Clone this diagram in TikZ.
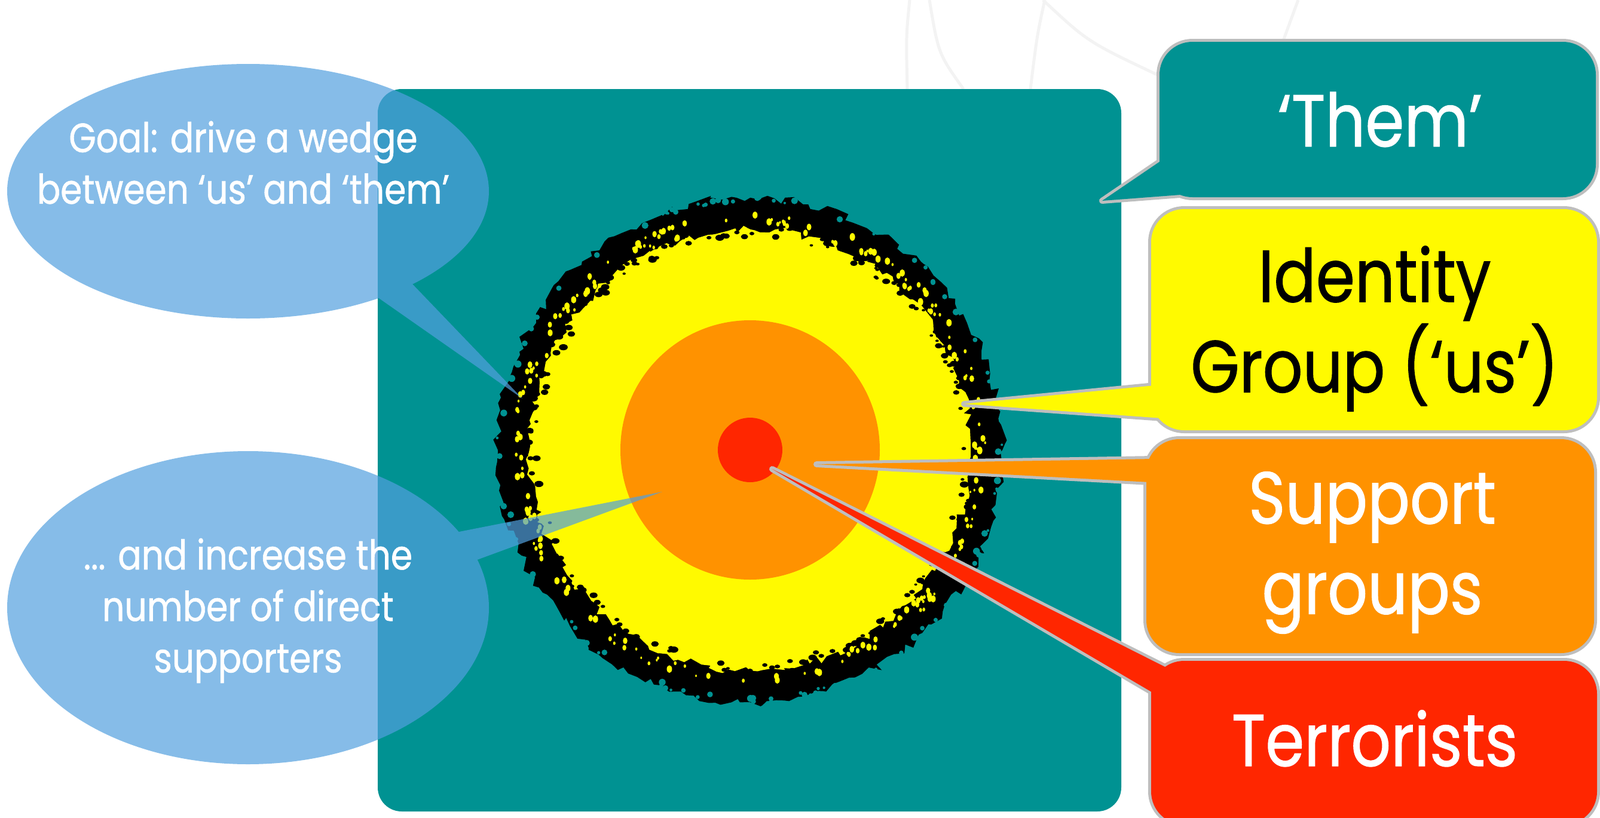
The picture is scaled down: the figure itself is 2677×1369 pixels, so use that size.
\documentclass[tikz,border=0pt]{standalone}
\usepackage{fontspec}
\setmainfont{Poppins}[FakeStretch=0.85, FakeBold=0.9]
\usetikzlibrary{decorations.pathmorphing}
\definecolor{slideteal}{RGB}{0,146,146}
\definecolor{usyellow}{RGB}{255,250,0}
\definecolor{suporange}{RGB}{255,146,0}
\definecolor{terrred}{RGB}{255,38,0}
\definecolor{rimgray}{RGB}{190,190,190}
\definecolor{noteblue}{RGB}{82,160,222}
\definecolor{faintgray}{RGB}{243,243,243}
\tikzset{
  rim/.style={draw=rimgray, line width=0.1cm, line join=round, rounded corners=0.55cm},
  wedge/.style={draw=rimgray, line width=0.1cm, line join=round},
  boxtext/.style={font=\fontsize{35}{43}\selectfont, align=center, inner sep=0pt},
  notetext/.style={font=\fontsize{19.5}{24.5}\selectfont, text=white, align=center, inner sep=0pt},
}
\begin{document}
\begin{tikzpicture}[x=0.01cm, y=-0.01cm]
    \useasboundingbox (0,0) rectangle (2677,1369);

    % faint lines of the slide background
    \draw[faintgray, line width=0.05cm] (1522,0) .. controls (1516,60) .. (1518,149);
    \draw[faintgray, line width=0.05cm] (1555,0) .. controls (1570,90) .. (1612,149);
    \draw[faintgray, line width=0.05cm] (1748,0) .. controls (1735,60) .. (1724,149);
    \draw[faintgray, line width=0.05cm] (1745,0) .. controls (1820,70) .. (1936,125);
    \draw[faintgray, line width=0.05cm] (2172,0) -- (2147,68);

    % the world: 'them'
    \fill[slideteal, rounded corners=0.4cm] (632,149) rectangle (1876,1358);

    % ragged ring round the identity group
    \coordinate (ctr) at (1255,753);
    \fill[black, decorate, decoration={random steps, segment length=3.5pt, amplitude=2.2pt}] (ctr) circle (422);
    \fill[usyellow, decorate, decoration={random steps, segment length=3pt, amplitude=2pt}] (ctr) circle (369);
    \pgfmathsetseed{17}
    \foreach \i in {1,...,230} {
        \pgfmathsetmacro{\ang}{rnd*360}
        \pgfmathsetmacro{\rad}{356+rnd*24}
        \pgfmathsetmacro{\sz}{2.5+rnd*5}
        \fill[black] ({1255+\rad*cos(\ang)},{753+\rad*sin(\ang)}) ellipse [x radius=\sz, y radius=0.7*\sz];
    }
    \foreach \i in {1,...,220} {
        \pgfmathsetmacro{\ang}{rnd*360}
        \pgfmathsetmacro{\rad}{374+rnd*22}
        \pgfmathsetmacro{\sz}{2+rnd*4.5}
        \fill[usyellow] ({1255+\rad*cos(\ang)},{753+\rad*sin(\ang)}) ellipse [x radius=0.7*\sz, y radius=\sz];
    }
    \foreach \i in {1,...,90} {
        \pgfmathsetmacro{\ang}{rnd*360}
        \pgfmathsetmacro{\rad}{414+rnd*10}
        \pgfmathsetmacro{\sz}{2+rnd*4}
        \fill[slideteal] ({1255+\rad*cos(\ang)},{753+\rad*sin(\ang)}) circle (\sz);
    }

    % support groups and terrorists
    \fill[suporange] (ctr) circle (217);
    \fill[terrred] (ctr) circle (54);

    % callout 'Them'
    \coordinate (themTip) at (1844,336);
    \draw[rim] (1940,70) rectangle (2670,330);
    \draw[wedge] (1944,268) -- (themTip) -- (1975,326) -- (2000,290) -- cycle;
    \fill[slideteal, rounded corners=0.55cm] (1940,70) rectangle (2670,330);
    \fill[slideteal] (1944,268) -- (themTip) -- (1975,326) -- (2000,290) -- cycle;
    \node[boxtext, text=white, anchor=base] (them) at (2309,245) {‘Them’};

    % callout identity group
    \coordinate (usTip) at (1613,676);
    \draw[rim] (1926,350) rectangle (2672,720);
    \draw[wedge] (1932,645) -- (usTip) -- (1945,700) -- (1985,670) -- cycle;
    \fill[usyellow, rounded corners=0.55cm] (1926,350) rectangle (2672,720);
    \fill[usyellow] (1932,645) -- (usTip) -- (1945,700) -- (1985,670) -- cycle;
    \node[boxtext, text=black] (us) at (2300,550) {Identity\\Group (‘us’)};

    % callout support groups
    \coordinate (supTip) at (1366,777);
    \draw[rim] (1918,735) rectangle (2667,1093);
    \draw[wedge] (1930,768) -- (supTip) -- (1924,807) -- (1965,790) -- cycle;
    \fill[suporange, rounded corners=0.55cm] (1918,735) rectangle (2667,1093);
    \fill[suporange] (1930,768) -- (supTip) -- (1924,807) -- (1965,790) -- cycle;
    \node[boxtext, text=white] (sup) at (2296,925) {Support\\groups};

    % callout terrorists
    \coordinate (terTip) at (1292,785);
    \draw[rim] (1926,1106) rectangle (2672,1380);
    \draw[wedge] (1953,1118) -- (terTip) -- (1930,1160) -- (1990,1160) -- cycle;
    \fill[terrred, rounded corners=0.55cm] (1926,1106) rectangle (2672,1380);
    \fill[terrred] (1953,1118) -- (terTip) -- (1930,1160) -- (1990,1160) -- cycle;
    \node[boxtext, text=white, anchor=base] (ter) at (2300,1282) {Terrorists};

    % notes in blue
    \coordinate (goalTip) at (874,667);
    \coordinate (moreTip) at (1108,823);
    \begin{scope}[transparency group, opacity=0.7]
        \fill[noteblue] (415,320) ellipse [x radius=403, y radius=213];
        \fill[noteblue] (682,467) -- (goalTip) -- (631,497) -- (560,420) -- cycle;
        \fill[noteblue] (415,1017) ellipse [x radius=403, y radius=262];
        \fill[noteblue] (768,890) -- (moreTip) -- (798,937) -- (700,950) -- cycle;
    \end{scope}
    \node[notetext] (goal) at (407,272) {Goal: drive a wedge\\between ‘us’ and ‘them’};
    \node[notetext] (more) at (415,1022) {... and increase the\\number of direct\\supporters};
\end{tikzpicture}
\end{document}
